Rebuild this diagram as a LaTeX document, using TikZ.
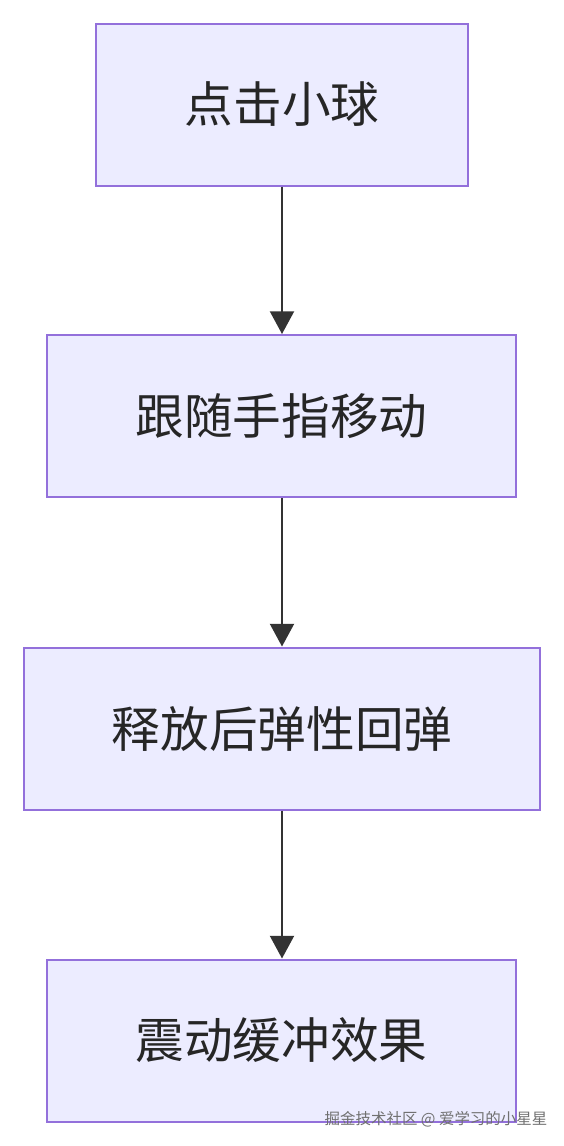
\documentclass[tikz,border=0pt]{standalone}
\usepackage{fontspec}
\setmainfont{Noto Sans CJK SC}
\usetikzlibrary{arrows.meta}
\definecolor{boxfill}{HTML}{ECECFF}
\definecolor{boxline}{HTML}{9370DB}
\definecolor{arrowline}{HTML}{333333}
\definecolor{markgray}{HTML}{707070}
\tikzset{
	stepbox/.style={draw=boxline, fill=boxfill, line width=1.5pt, minimum height=121.5pt, inner sep=0pt, font=\fontsize{36.5pt}{36.5pt}\selectfont, text=black!85},
	flow/.style={draw=arrowline, line width=1.5pt, -{Triangle[width=18pt,length=17pt]}}
}

\begin{document}
\begin{tikzpicture}[x=0.75pt, y=-0.75pt]
		%%%%% START %%%%%
		
		\useasboundingbox (0, 0) rectangle (564, 1146);
		
		\node[stepbox, minimum width=279pt] (tap) at (282, 104.5) {点击小球};
		\node[stepbox, minimum width=351.75pt] (follow) at (281.5, 416) {跟随手指移动};
		\node[stepbox, minimum width=387pt] (bounce) at (282, 728.5) {释放后弹性回弹};
		\node[stepbox, minimum width=351.75pt] (shake) at (281.5, 1040.5) {震动缓冲效果};
		
		\draw[flow] (tap.south) -- (tap.south |- follow.north);
		\draw[flow] (follow.south -| tap.south) -- (tap.south |- bounce.north);
		\draw[flow] (bounce.south) -- (bounce.south |- shake.north);
		
		\node[text=markgray, font=\fontsize{11.6pt}{11.6pt}\selectfont] (mark) at (436, 1119) {掘金技术社区 @ 爱学习的小星星};
		
		%%%%% END %%%%%
\end{tikzpicture}
\end{document}
